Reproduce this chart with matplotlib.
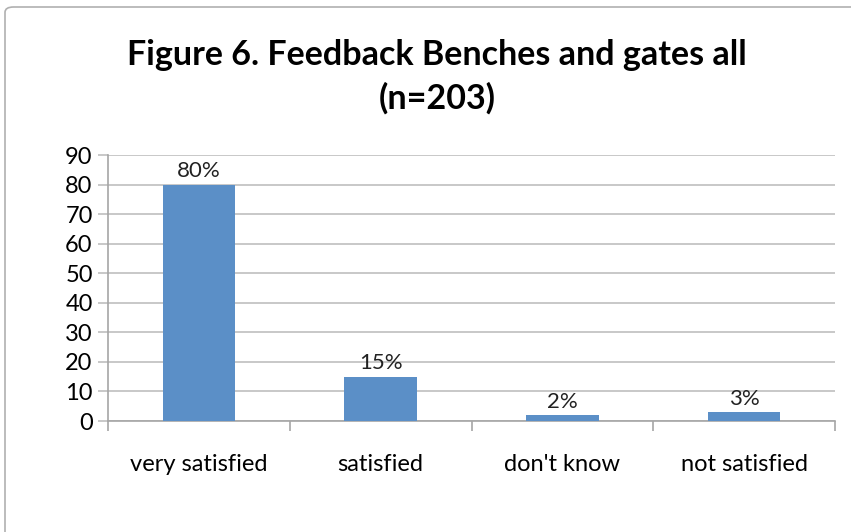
import matplotlib.pyplot as plt
from matplotlib.patches import FancyBboxPatch

# data
categories = ['very satisfied', 'satisfied', "don't know", 'not satisfied']
values = [80, 15, 2, 3]
labels = ['80%', '15%', '2%', '3%']
yticks = list(range(0, 100, 10))

plt.rcParams['font.family'] = ['Lato', 'DejaVu Sans']

fig = plt.figure(figsize=(8.51, 5.32), dpi=100)
ax = fig.add_axes([108 / 851, 1 - 421 / 532, 727 / 851, 266 / 532])

# outer chart border (right and bottom edges run off the picture)
border = FancyBboxPatch((5 / 851, -0.05), 1.05, 1 - 7 / 532 + 0.05,
                        boxstyle='round,pad=0,rounding_size=0.01',
                        transform=fig.transFigure, fill=False,
                        edgecolor='#B0B0B0', linewidth=1.2)
fig.patches.append(border)

x = range(len(categories))
ax.bar(x, values, width=0.4, color='#5B8FC7', zorder=3)
for i, (v, lab) in enumerate(zip(values, labels)):
    ax.text(i, v + 1.2, lab, ha='center', va='bottom', fontsize=16, color='#222222')

ax.set_xlim(-0.5, len(categories) - 0.5)
ax.set_ylim(0, 90)
ax.set_yticks(yticks)
ax.set_yticklabels([str(t) for t in yticks], fontsize=17)
ax.yaxis.grid(True, color='#BFBFBF', linewidth=1.2, zorder=0)
ax.tick_params(axis='y', length=7, color='#BFBFBF', width=1.2, pad=4)

# category labels at centres, tick marks at boundaries
ax.set_xticks(list(x))
ax.set_xticklabels(categories, fontsize=17)
ax.tick_params(axis='x', length=0, pad=24)
ax.set_xticks([i - 0.5 for i in range(len(categories) + 1)], minor=True)
ax.tick_params(axis='x', which='minor', length=7, color='#A6A6A6', width=1.2)

for s in ['top', 'right']:
    ax.spines[s].set_visible(False)
ax.spines['left'].set_color('#A6A6A6')
ax.spines['bottom'].set_color('#A6A6A6')
ax.spines['left'].set_linewidth(1.2)
ax.spines['bottom'].set_linewidth(1.2)

fig.text(437 / 851, 1 - 77 / 532, 'Figure 6. Feedback Benches and gates all\n(n=203)',
         ha='center', va='center', fontsize=24.5, fontweight='bold', linespacing=1.4)

fig.savefig('out.png', dpi=100)
